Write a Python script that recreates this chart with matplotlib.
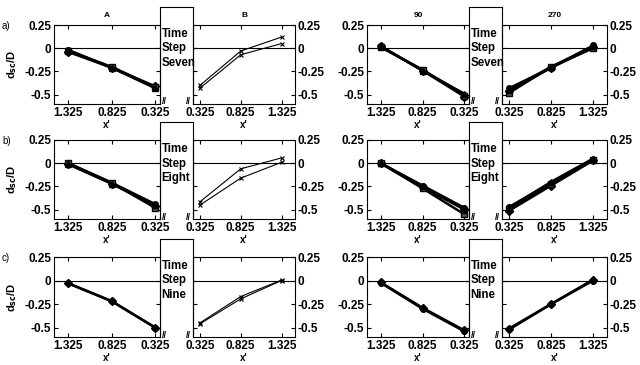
import matplotlib
matplotlib.use("Agg")
import matplotlib.pyplot as plt

plt.rcParams['font.family'] = ['Liberation Sans', 'DejaVu Sans']
plt.rcParams['mathtext.default'] = 'bf'

W, H = 640, 365

# x' positions along the channel
x_vals = [1.325, 0.825, 0.325]
x_ticklabels = ['1.325', '0.825', '0.325']
y_ticks = [0.25, 0, -0.25, -0.5]
y_ticklabels = ['0.25', '0', '-0.25', '-0.5']

titles = ['A', 'B', '90', '270']
row_labels = ['a)', 'b)', 'c)']
step_names = ['Seven', 'Eight', 'Nine']

# d_sc/D values, each series listed in order of x_vals
A_a = [[-0.02, -0.21, -0.42], [-0.04, -0.21, -0.41], [-0.03, -0.20, -0.42], [-0.02, -0.21, -0.43]]
A_b = [[0.00, -0.21, -0.44], [-0.01, -0.22, -0.46], [0.00, -0.21, -0.48], [-0.01, -0.22, -0.45]]
A_c = [[-0.03, -0.22, -0.50], [-0.03, -0.22, -0.50]]

B_a = [[0.12, -0.03, -0.40], [0.05, -0.07, -0.43]]
B_b = [[0.057, -0.06, -0.415], [0.01, -0.16, -0.45]]
B_c = [[0.005, -0.17, -0.45], [0.00, -0.195, -0.46]]

P90_a = [[0.02, -0.24, -0.50], [0.02, -0.24, -0.52], [0.01, -0.23, -0.51], [0.02, -0.24, -0.49]]
P90_b = [[0.00, -0.24, -0.48], [0.00, -0.26, -0.49], [0.00, -0.27, -0.55], [0.00, -0.25, -0.50]]
P90_c = [[-0.025, -0.30, -0.54], [-0.02, -0.29, -0.53]]

P270_a = [[0.03, -0.21, -0.43], [0.01, -0.21, -0.46], [0.00, -0.20, -0.48], [0.02, -0.20, -0.45]]
P270_b = [[0.04, -0.21, -0.47], [0.03, -0.24, -0.51], [0.04, -0.22, -0.49], [0.05, -0.20, -0.48]]
P270_c = [[0.00, -0.25, -0.52], [0.01, -0.25, -0.51]]

panel_data = [
    [A_a, B_a, P90_a, P270_a],
    [A_b, B_b, P90_b, P270_b],
    [A_c, B_c, P90_c, P270_c],
]

fig = plt.figure(figsize=(W / 100, H / 100), dpi=100)


def box(x0, y0, x1, y1):
    # pixel box (top-left origin) -> figure fraction rect
    return [x0 / W, 1 - y1 / H, (x1 - x0) / W, (y1 - y0) / H]


row_tops = [25, 140, 257]
row_bots = [104, 219, 337]
# (left panel, middle box, right panel) x-extents for each group
groups = [(54, 160, 193, 295), (367, 469, 502, 607)]
markers = ['o', 'D', 's', '^']

for r in range(3):
    top, bot = row_tops[r], row_bots[r]
    for g, (x0, x1, x2, x3) in enumerate(groups):
        for side in range(2):
            if side == 0:
                ax = fig.add_axes(box(x0, top, x1, bot))
                ax.set_xlim(1.49, 0.27)
            else:
                ax = fig.add_axes(box(x2, top, x3, bot))
                ax.set_xlim(0.24, 1.49)
            data = panel_data[r][g * 2 + side]
            thin = (g == 0 and side == 1)
            ax.axhline(0, color='black', lw=0.8, zorder=1)
            for i, s in enumerate(data):
                if thin:
                    ax.plot(x_vals, s, color='black', lw=0.8, marker='x', ms=2.5, mew=0.8)
                else:
                    ax.plot(x_vals, s, color='black', lw=1.8, marker=markers[i % 4], ms=4,
                            mfc='#555555' if i == 2 else 'black', mec='black')
            ax.set_ylim(-0.6, 0.25)
            ax.set_xticks(x_vals)
            ax.set_xticklabels(x_ticklabels, fontsize=8.5, fontweight='bold')
            ax.set_yticks(y_ticks)
            ax.set_yticklabels(y_ticklabels, fontsize=8.5, fontweight='bold')
            ax.tick_params(direction='in', length=3, top=True, right=True, pad=2)
            if side == 1:
                ax.tick_params(labelleft=False, labelright=True)
            ax.set_xlabel("x'", fontsize=7, fontweight='bold', labelpad=1)
            for sp in ax.spines.values():
                sp.set_linewidth(0.8)
            if r == 0:
                ax.text(0.5, 1.08, titles[g * 2 + side], transform=ax.transAxes,
                        ha='center', va='bottom', fontsize=6, fontweight='bold')
            if g == 0 and side == 0:
                ax.set_ylabel('d$_{sc}$/D', fontsize=8, fontweight='bold', labelpad=4)

        # middle "Time Step" box
        bx = fig.add_axes(box(x1, top - 18, x2, bot))
        bx.set_xticks([])
        bx.set_yticks([])
        bx.spines['bottom'].set_visible(False)
        for sp in bx.spines.values():
            sp.set_linewidth(0.8)
        bx.patch.set_alpha(0)
        for k, word in enumerate(['Time', 'Step', step_names[r]]):
            fig.text((x1 + 1.5) / W, 1 - (top + 9 + 14.5 * k) / H, word,
                     ha='left', va='center', fontsize=8.3, fontweight='bold')
        fig.text((x1 + 4) / W, 1 - (bot - 2) / H, '//', ha='center', va='center',
                 fontsize=6.5, fontweight='bold')
        fig.text((x2 - 5) / W, 1 - (bot - 2) / H, '//', ha='center', va='center',
                 fontsize=6.5, fontweight='bold')

    fig.text(2 / W, 1 - (top + 1) / H, row_labels[r], ha='left', va='center', fontsize=7)

fig.savefig('out.png', dpi=100)
